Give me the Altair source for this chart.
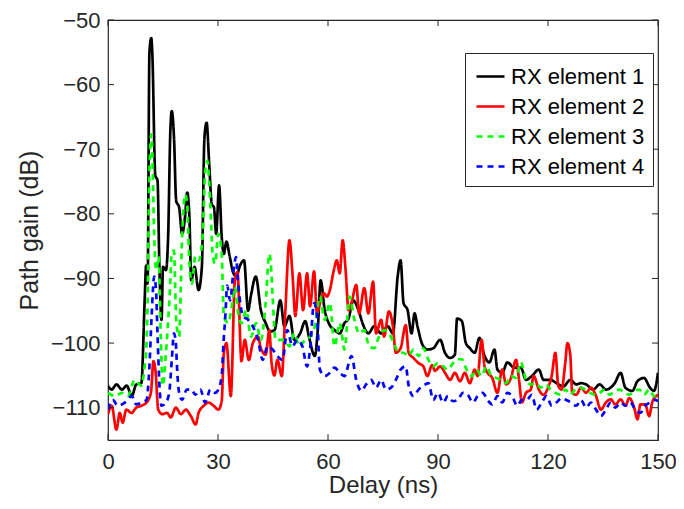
import altair as alt
import pandas as pd

names = ["RX element 1", "RX element 2", "RX element 3", "RX element 4"]
colors = ["#000000", "#FF0000", "#00FF00", "#0000FF"]
dashes = [[1, 0], [1, 0], [6, 5], [6, 5]]

x_ticks = [0, 30, 60, 90, 120, 150]
y_ticks = [-110, -100, -90, -80, -70, -60, -50]

# RX element 1 (black)
e1_x = [0, 1, 2.3, 3.8, 5.1, 6.5, 7.7, 9.1, 10, 10.4,
        10.8, 11.3, 11.8, 12.1, 12.9, 13.5, 14, 14.6, 15, 15.8,
        16.4, 17, 17.4, 18, 18.6, 19.4, 20.2, 21, 21.6, 22.2,
        22.7, 23.6, 24.7, 25.6, 26.3, 26.9, 27.6, 28.3, 28.9, 29.5,
        30.3, 31, 31.6, 32.3, 33.2, 34.2, 35, 36, 37.1, 38.2,
        39, 40.3, 41.7, 43, 44.2, 45.4, 47, 48.1, 49.5, 50.8,
        52.4, 53.8, 54.8, 56.4, 57.2, 58, 59.1, 60.2, 61.8, 63.2,
        64.5, 65.6, 66.9, 68.3, 69.6, 71, 72.6, 74.5, 76.3, 77.7,
        79, 79.8, 80.6, 81.7, 82.8, 83.6, 84.4, 85.8, 87.1, 88.7,
        90.6, 91.9, 93.3, 94.6, 95.2, 96.5, 97.6, 98.7, 100, 101.3,
        102.7, 104, 105.4, 106.2, 107.5, 108.9, 110.8, 112.6, 114, 115.6,
        117.5, 118.8, 120.7, 122.3, 124.2, 126.1, 127.7, 129, 130.4, 132.3,
        134.1, 135.8, 138.2, 139.8, 141.1, 143, 144.4, 146.2, 147.8, 148.9,
        150]
e1_y = [-106.6, -107.2, -106.4, -107.2, -106.6, -108.2, -106.4, -106.2, -93.4, -88,
        -90.8, -55, -52.8, -55.4, -74.1, -74.8, -87.7, -96.4, -88.2, -88.7,
        -83.5, -67.2, -64.1, -68.2, -78, -79, -83.1, -80.5, -76.7, -80.5,
        -90.3, -88.2, -91.8, -88.2, -68.2, -65.9, -72.3, -78.5, -79, -83.1,
        -75.6, -83.5, -86.2, -84.3, -86.6, -89.2, -89.7, -88, -87.2, -95,
        -92.6, -89.7, -94.9, -96.9, -98.2, -98, -93.4, -97.4, -95.8, -99.5,
        -98.5, -96.6, -99, -102, -98, -90.3, -94.9, -96.9, -98, -98.5,
        -96.9, -96.2, -93.4, -94.9, -97.2, -98.5, -97.4, -98.5, -97.4, -98.5,
        -89.7, -87.2, -93.8, -94.9, -98.5, -95.4, -97.4, -100.3, -101, -100.8,
        -99.5, -101.5, -102.3, -101.8, -96.2, -96.6, -100, -100.8, -101.5, -99.2,
        -102, -103, -101, -104.1, -104.6, -103, -103.8, -103.8, -105.7, -105.1,
        -104.1, -105.7, -105.7, -106.2, -106.7, -105.7, -106.4, -106.2, -106.4, -107.2,
        -106.4, -107.2, -106.2, -104.6, -106.9, -107.4, -105.9, -105.4, -106.9, -107.4,
        -104.6]

# RX element 2 (red)
e2_x = [0, 1, 2.3, 3.2, 4, 5, 6.4, 7.7, 9.1, 10.5,
        11.7, 12.4, 13, 13.7, 14.8, 16.1, 17.1, 18.5, 19.9, 21.2,
        22.6, 23.9, 24.7, 26.1, 27.4, 28.8, 30.1, 31, 31.6, 32.3,
        33.5, 34.6, 35.3, 36.4, 37.3, 38.4, 39.5, 40.9, 41.7, 43,
        44, 44.6, 45.4, 46.2, 47.4, 48.3, 49.5, 50.3, 51.1, 52.2,
        53.2, 54.3, 55.1, 56.2, 57, 57.8, 58.9, 59.7, 60.5, 61.6,
        62.4, 63.2, 64, 64.8, 65.6, 66.4, 67.7, 68.5, 69.9, 71,
        72.3, 73.1, 74.5, 75.3, 76.6, 77.7, 78.5, 79.8, 81.2, 82,
        83.3, 84.7, 86, 87.1, 88.4, 89.2, 90.6, 91.9, 93.3, 94.6,
        96, 97.3, 98.7, 100, 100.8, 101.9, 102.7, 103.5, 104.8, 106.2,
        107.5, 108.6, 109.9, 111.3, 112.1, 112.9, 114, 115.3, 116.1, 117.5,
        118.8, 120.2, 121, 122, 122.8, 123.7, 124.7, 125.3, 126.1, 126.6,
        127.7, 129, 130.4, 131.7, 133.1, 134.4, 135.8, 137.1, 138.4, 139.8,
        141.1, 142.2, 143.5, 144.4, 145.2, 146.5, 147.6, 148.4, 149.5, 150]
e2_y = [-111, -109.7, -113.4, -110.8, -112.3, -110.3, -110.8, -110, -109.7, -109.2,
        -107.7, -102.8, -104.6, -110.3, -111, -110.8, -111.5, -110, -111, -110.3,
        -111.3, -112.6, -110.8, -109.7, -109.2, -109.7, -110.3, -109, -101.5, -100,
        -108.2, -90.3, -89, -102.8, -99.5, -102.6, -100, -99, -100.8, -101.8,
        -98, -103, -105, -102.6, -105.1, -95.8, -84.1, -89.2, -95.8, -89.2,
        -94.9, -89.2, -94.3, -88.9, -95.4, -93.8, -92.3, -92.8, -91.8, -88.7,
        -87.2, -89.2, -84.1, -88.7, -94.9, -93.8, -91, -95.4, -91.5, -95.4,
        -90.5, -98.5, -96.4, -99, -95.1, -97.4, -101.5, -100.8, -97.2, -101.5,
        -102.3, -103.1, -103.6, -105.1, -103.4, -104.3, -103.6, -104.6, -105.7, -104.6,
        -105.9, -104.6, -106.2, -104.1, -105.1, -99.5, -103.6, -104.6, -105.4, -107.7,
        -104.1, -106.4, -105.4, -102.6, -105.7, -109.2, -107.7, -107.2, -105.1, -107.2,
        -108, -106.6, -105.1, -101.5, -106.6, -107.2, -103.1, -100, -102, -107.7,
        -108, -106.9, -107.7, -106.9, -108.2, -110.3, -109.2, -108.7, -109.5, -108.7,
        -109.7, -108.5, -110, -111.8, -109.5, -109.5, -111.3, -109.2, -108.2, -108]

# RX element 3 (green, dashed)
e3_x = [0, 2, 3.8, 5.4, 7.3, 9.1, 10, 10.4, 10.8, 11.3,
        11.8, 12.1, 12.6, 13.2, 13.8, 14.4, 14.9, 15.8, 16.7, 17.4,
        18, 18.6, 19.4, 20.2, 21.1, 21.6, 22.2, 22.9, 23.8, 24.7,
        25.8, 26.5, 27.1, 27.9, 28.6, 29.2, 30.1, 31, 31.6, 32.8,
        33.6, 34.6, 35.5, 36.4, 37.7, 39, 40.4, 41.7, 43, 44,
        44.4, 44.9, 45.7, 46.7, 48, 49.5, 50.8, 52.2, 53.8, 55.1,
        56.4, 57.8, 59.1, 60.5, 61.8, 63.2, 64.5, 65.9, 67.2, 68.5,
        69.9, 71.2, 72.6, 73.9, 75.3, 76.6, 78, 79.3, 80.6, 82,
        83.3, 84.7, 86, 87.4, 88.7, 90, 91.4, 92.7, 94.1, 95.4,
        96.5, 97.8, 99.2, 100.5, 101.9, 103.2, 104.6, 105.9, 107.3, 108.6,
        109.9, 111.3, 112.6, 114, 115.3, 116.7, 118, 119.4, 120.7, 122,
        123.4, 124.7, 126.1, 127.4, 128.8, 130.1, 131.5, 132.8, 134.1, 135.5,
        136.8, 138.2, 139.5, 140.9, 142.2, 143.5, 144.9, 146.2, 147.6, 148.9,
        150]
e3_y = [-107.7, -108.2, -107.7, -108.2, -105.7, -106.6, -103.6, -101.5, -93.8, -73.4,
        -67.7, -70.8, -83.5, -88.7, -86.6, -99, -106.6, -101.5, -93.8, -86.2,
        -85.7, -96.5, -99, -83.5, -77, -78.5, -87.7, -90.8, -86.6, -87.2,
        -83.5, -73.4, -71.8, -78.5, -86.6, -87.7, -83.1, -86.2, -95.9, -96.9,
        -94.9, -91.3, -95.4, -96.9, -94.9, -99, -96.9, -99.5, -93.8, -86.2,
        -87.7, -92.8, -99.5, -99.5, -99.5, -100.5, -98.5, -100.5, -99.5, -99,
        -97.4, -92.8, -96.4, -93.8, -100.5, -96.9, -101, -92.8, -96.4, -98.5,
        -98, -100.5, -100.8, -99, -98, -98.5, -100, -101.5, -101.5, -102,
        -101, -102, -100.8, -102.6, -103.6, -103.1, -103.6, -104.1, -103.1, -102.5,
        -102.5, -104.1, -105.1, -104.1, -105.1, -103.6, -105.1, -105.4, -105.7, -106.2,
        -105.1, -105.4, -103, -105.7, -106.4, -106.2, -106.9, -106.4, -107.2, -107.7,
        -108, -107.2, -108, -107.2, -106.9, -107.2, -107.7, -108, -107.7, -107.2,
        -108, -107.4, -107.2, -107.7, -108, -107.4, -107.2, -108, -107.2, -108.2,
        -108]

# RX element 4 (blue, dashed)
e4_x = [0, 1.3, 2.7, 4.6, 6.5, 7.7, 9.1, 10.5, 11.3, 11.9,
        12.6, 13.1, 13.5, 14, 14.6, 15.8, 16.7, 17.4, 18, 18.5,
        18.9, 19.4, 20.2, 21.5, 22.8, 23.8, 25.2, 26.5, 27.9, 29.2,
        30.1, 31, 31.5, 32, 32.5, 33.3, 34.2, 34.9, 35.5, 36.8,
        38.2, 39.5, 40.9, 42.2, 43.5, 44.9, 46.2, 47.6, 48.9, 50.3,
        51.6, 53, 54.3, 55.1, 56.2, 57, 57.8, 59.1, 60.5, 61.8,
        63.2, 64.5, 66.4, 67.7, 69.1, 70.4, 71.8, 73.1, 74.5, 75.8,
        77.2, 78.5, 79.8, 81.2, 82, 83.3, 84.7, 86, 87.4, 88.7,
        90, 91.4, 92.7, 94.1, 95.4, 96.8, 98.1, 99.5, 100.8, 102.2,
        103.5, 104.8, 106.2, 107.5, 108.9, 110.2, 111.6, 112.9, 114.2, 115.6,
        116.9, 118.3, 119.6, 121, 122.3, 123.7, 125, 126.3, 127.7, 129,
        130.4, 131.7, 133.1, 134.4, 135.8, 137.1, 138.4, 139.8, 141.1, 142.5,
        143.8, 145.2, 146.5, 147.8, 149.2, 150]
e4_y = [-110.3, -108.8, -109.7, -109.2, -108.2, -109.5, -109.2, -108.8, -103.6, -95.8,
        -89.7, -91.8, -98.5, -106.2, -109.7, -109.2, -107.7, -102.6, -98.5, -100,
        -104.6, -107.7, -108.8, -107.2, -107.2, -108, -107.2, -109.2, -107.2, -107.7,
        -107.2, -105.1, -100, -95.8, -91.1, -93.4, -89, -86.7, -90.8, -95.8,
        -96.4, -97.4, -99.5, -102.6, -100.5, -101, -102, -102.6, -98, -100.5,
        -99.5, -100.5, -103.6, -101, -93.8, -95.8, -104.1, -105.1, -104.6, -103.8,
        -104.6, -105.1, -102, -105.7, -107.4, -106.4, -105.7, -106.9, -105.7, -107.2,
        -106.9, -105.7, -104.1, -103.6, -106.6, -108.2, -107.2, -106.6, -106.2, -108.8,
        -107.7, -109.2, -108.2, -109, -108.8, -107.7, -108, -109.2, -108.2, -107.7,
        -108.8, -109.5, -108.2, -109.2, -107.7, -108.2, -109.7, -108.8, -108.8, -108,
        -110.3, -109.2, -108.2, -109.7, -109.2, -108.5, -108.8, -109.2, -109.7, -108.8,
        -110, -109.2, -110.3, -111.3, -110.3, -109.2, -110, -109.2, -109.7, -109.2,
        -110.3, -110.8, -109.7, -109.2, -108.8, -109]

series = [(names[0], e1_x, e1_y), (names[1], e2_x, e2_y),
          (names[2], e3_x, e3_y), (names[3], e4_x, e4_y)]
rows = []
for nm, xs, ys in series:
    n = min(len(xs), len(ys))
    for i in range(n):
        rows.append({"series": nm, "delay": xs[i], "gain": ys[i]})
df = pd.DataFrame(rows)

W, H = 550, 420
FONT = "Liberation Sans"
TXT = "#262626"

legend = alt.Legend(
    title=None, orient="none", legendX=357, legendY=33,
    strokeColor=TXT, fillColor="white", padding=8, rowPadding=3,
    labelFontSize=22, labelFont=FONT, labelColor="#000000", labelLimit=400,
    symbolType="stroke", symbolSize=784, symbolStrokeWidth=2.5, labelOffset=5,
    symbolOffset=2, cornerRadius=0,
)

lines = alt.Chart(df).mark_line(strokeWidth=2.7, clip=True, interpolate="monotone").encode(
    x=alt.X("delay:Q", scale=alt.Scale(domain=[0, 150], nice=False, zero=False),
            axis=alt.Axis(values=x_ticks, title="Delay (ns)", ticks=False, domain=False,
                          grid=False, labelFontSize=22, titleFontSize=24,
                          labelPadding=11, titlePadding=1, labelFont=FONT, titleFont=FONT,
                          labelColor=TXT, titleColor=TXT, titleFontWeight="normal",
                          labelFlush=False)),
    y=alt.Y("gain:Q", scale=alt.Scale(domain=[-115, -50], nice=False, zero=False),
            axis=alt.Axis(values=y_ticks, title="Path gain (dB)", ticks=False, domain=False,
                          grid=False, labelFontSize=22, titleFontSize=25,
                          labelPadding=8, titlePadding=8, labelFont=FONT, titleFont=FONT,
                          labelColor=TXT, titleColor=TXT, titleFontWeight="normal",
                          labelFlush=False)),
    color=alt.Color("series:N", scale=alt.Scale(domain=names, range=colors), legend=legend),
    strokeDash=alt.StrokeDash("series:N", scale=alt.Scale(domain=names, range=dashes), legend=legend),
)

xt = pd.DataFrame({"t": x_ticks})
yt = pd.DataFrame({"t": y_ticks})
tick_style = dict(color=TXT, strokeWidth=1)
xb = alt.Chart(xt).mark_rule(**tick_style).encode(x="t:Q", y=alt.value(H), y2=alt.value(H - 6))
xtp = alt.Chart(xt).mark_rule(**tick_style).encode(x="t:Q", y=alt.value(0), y2=alt.value(6))
yl = alt.Chart(yt).mark_rule(**tick_style).encode(y="t:Q", x=alt.value(0), x2=alt.value(6))
yr = alt.Chart(yt).mark_rule(**tick_style).encode(y="t:Q", x=alt.value(W), x2=alt.value(W - 6))

chart = alt.layer(lines, xb, xtp, yl, yr).properties(
    width=W, height=H,
    padding={"left": 100, "top": 12, "right": 18, "bottom": 61},
    autosize=alt.AutoSizeParams(type="none"),
    background="white",
).configure_view(stroke=TXT, strokeWidth=1.2)

chart.save("out.html", embed_options={"renderer": "svg", "actions": False})
